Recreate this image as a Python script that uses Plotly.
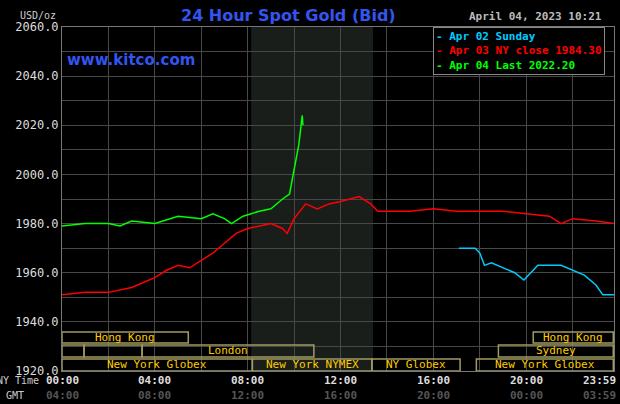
import plotly.graph_objects as go

red_x = [0,1,2,2.5,3,3.5,4,4.5,5,5.5,6,6.5,7,7.5,8,8.5,9,9.5,9.7,10,10.5,11,11.5,12,12.8,13.3,13.6,14,15,16,17,18,19,20,21,21.5,22,23,23.8]
red_y = [1951,1952,1952,1953,1954,1956,1958,1961,1963,1962,1965,1968,1972,1976,1978,1979,1980,1978,1976,1982,1988,1986,1988,1989,1991,1988,1985,1985,1985,1986,1985,1985,1985,1984,1983,1980,1982,1981,1980]
green_x = [0,1,2,2.5,3,4,5,6,6.5,7,7.3,7.8,8.5,9,9.5,9.8,10,10.2,10.35,10.38]
green_y = [1979,1980,1980,1979,1981,1980,1983,1982,1984,1982,1980,1983,1985,1986,1990,1992,2002,2012,2024,2020]
cyan_x = [17.1,17.8,18,18.2,18.5,19,19.5,19.9,20.2,20.5,21.5,22,22.5,23,23.3,23.8]
cyan_y = [1970,1970,1968,1963,1964,1962,1960,1957,1960,1963,1963,1961,1959,1955,1951,1951]

sessions = [  # (x0, x1, row, label)
    (0, 5.44, 0, "Hong Kong"), (20.3, 23.75, 0, "Hong Kong"),
    (0, 0.95, 1, ""), (0.95, 3.45, 1, ""), (3.45, 10.85, 1, "London"), (18.8, 23.75, 1, "Sydney"),
    (0, 8.2, 2, "New York Globex"), (8.2, 13.35, 2, "New York NYMEX"),
    (13.35, 17.15, 2, "NY Globex"), (17.85, 23.75, 2, "New York Globex"),
]
rows = [(1931.4, 1935.9), (1925.7, 1930.6), (1920, 1924.9)]
ny_ticks = ["00:00","04:00","08:00","12:00","16:00","20:00","23:59"]
gmt_ticks = ["04:00","08:00","12:00","16:00","20:00","00:00","03:59"]
tick_pos = [0,4,8,12,16,20,23.78]

MONO = "DejaVu Sans Mono"
fig = go.Figure()
fig.add_trace(go.Scatter(x=red_x, y=red_y, mode="lines", line=dict(color="#ff0000", width=1.5)))
fig.add_trace(go.Scatter(x=green_x, y=green_y, mode="lines", line=dict(color="#00ff00", width=1.5)))
fig.add_trace(go.Scatter(x=cyan_x, y=cyan_y, mode="lines", line=dict(color="#00ccff", width=1.5)))

shapes = [dict(type="rect", xref="x", yref="y", x0=8.15, x1=13.4, y0=1920, y1=2060,
               fillcolor="#1a1e1a", line=dict(width=0), layer="below")]
anns = []
for x0, x1, r, lab in sessions:
    y0, y1 = rows[r]
    shapes.append(dict(type="rect", xref="x", yref="y", x0=x0, x1=x1, y0=y0, y1=y1,
                       line=dict(color="#a09a60", width=1.5), fillcolor="rgba(0,0,0,0)"))
    if lab:
        anns.append(dict(x=(x0+x1)/2, y=(y0+y1)/2, xref="x", yref="y", text=lab, showarrow=False,
                         font=dict(family=MONO, size=11, color="#ffcc00")))
for i, (p, a, b) in enumerate(zip(tick_pos, ny_ticks, gmt_ticks)):
    xa = "right" if i == len(tick_pos) - 1 else "center"
    xs = 4 if i == len(tick_pos) - 1 else 0
    anns.append(dict(x=p, y=0, xref="x", yref="paper", yanchor="top", xanchor=xa, xshift=xs, yshift=-1,
                     text="<b>"+a+"</b>", showarrow=False, font=dict(family=MONO, size=11, color="#dddddd")))
    anns.append(dict(x=p, y=0, xref="x", yref="paper", yanchor="top", xanchor=xa, xshift=xs, yshift=-16,
                     text="<b>"+b+"</b>", showarrow=False, font=dict(family=MONO, size=11, color="#555555")))
anns += [
    dict(x=0, y=0, xref="paper", yref="paper", xanchor="right", yanchor="top", xshift=-21, yshift=-2,
         text="NY Time", showarrow=False, font=dict(family=MONO, size=10, color="#cccccc")),
    dict(x=0, y=0, xref="paper", yref="paper", xanchor="right", yanchor="top", xshift=-36, yshift=-17,
         text="GMT", showarrow=False, font=dict(family=MONO, size=10, color="#cccccc")),
    dict(x=0.41, y=1, xref="paper", yref="paper", yanchor="bottom", text="<b>24 Hour Spot Gold (Bid)</b>",
         showarrow=False, font=dict(family="DejaVu Sans", size=16, color="#3355ee")),
    dict(x=0.005, y=0.935, xref="paper", yref="paper", xanchor="left", text="<b>www.kitco.com</b>", showarrow=False,
         font=dict(family="DejaVu Sans", size=15, color="#3355ee")),
    dict(x=1, y=1, xref="paper", yref="paper", xanchor="right", yanchor="bottom", yshift=2, xshift=-10,
         text="<b>April 04, 2023 10:21</b>", showarrow=False, font=dict(family=MONO, size=11, color="#bbbbbb")),
    dict(x=0, y=1, xref="paper", yref="paper", xanchor="right", yanchor="bottom", yshift=4, xshift=-4,
         text="USD/oz", showarrow=False, font=dict(family=MONO, size=10, color="#cccccc")),
    dict(x=0.672, y=1, xref="paper", yref="paper", xanchor="left", yanchor="top", align="left",
         text="<b><span style='color:#00ccff'>- Apr 02 Sunday</span><br>"
              "<span style='color:#ff0000'>- Apr 03 NY close 1984.30</span><br>"
              "<span style='color:#00ff00'>- Apr 04 Last 2022.20</span></b>",
         showarrow=False, bgcolor="#000000", bordercolor="#888888", borderwidth=1, borderpad=2,
         font=dict(family=MONO, size=11)),
]

fig.update_layout(
    width=620, height=404, paper_bgcolor="#000000", plot_bgcolor="#000000",
    margin=dict(l=62, r=6, t=27, b=33, autoexpand=False), showlegend=False,
    shapes=shapes, annotations=anns,
    xaxis=dict(range=[0, 23.78], tickvals=list(range(0, 24, 2)), showticklabels=False,
               showgrid=True, gridcolor="#484848", gridwidth=1, zeroline=False,
               showline=True, linecolor="#777777", mirror=True),
    yaxis=dict(range=[1920, 2060], tickvals=list(range(1920, 2061, 10)),
               ticktext=[f"{v}.0" if v % 20 == 0 else "" for v in range(1920, 2061, 10)],
               showgrid=True, gridcolor="#484848", gridwidth=1, zeroline=False,
               tickfont=dict(family=MONO, size=12, color="#dddddd"),
               showline=True, linecolor="#777777", mirror=True),
)
fig.write_html("out.html", config={"displayModeBar": False},
               post_script="document.body.style.margin='0';document.body.style.background='#000';")
